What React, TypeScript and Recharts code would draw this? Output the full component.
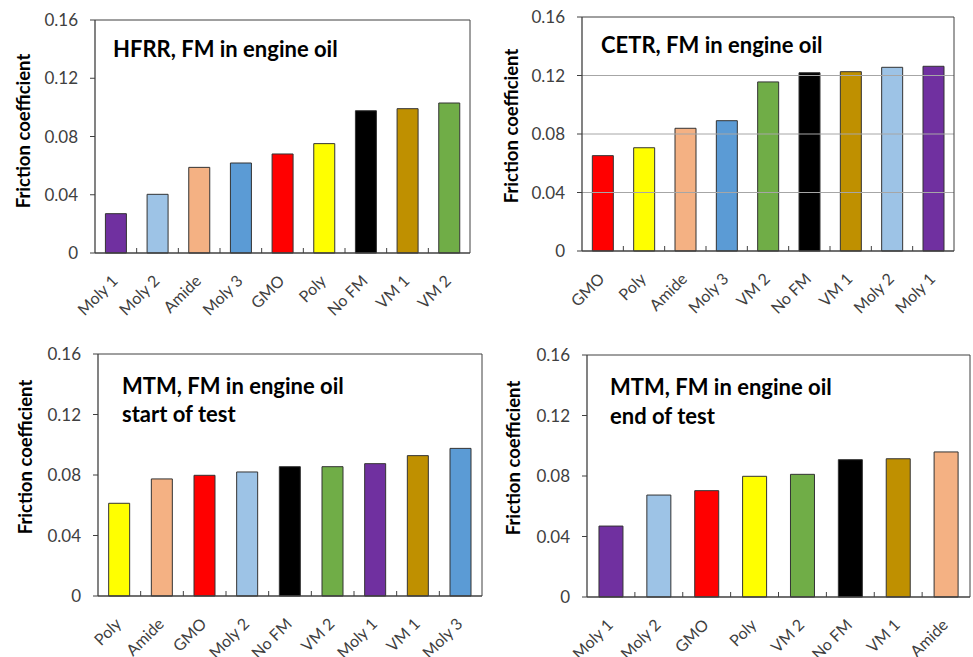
import React from "react";
import { BarChart, Bar, XAxis, YAxis, ReferenceLine, Cell } from "recharts";

const FONT = "Lato, 'Open Sans', sans-serif";
const INK = "#404040";

// one colour per friction modifier, same in every panel
const FM_COLORS: Record<string, string> = {
  "Moly 1": "#7030A0",
  "Moly 2": "#9DC3E6",
  Amide: "#F4B183",
  "Moly 3": "#5B9BD5",
  GMO: "#FF0000",
  Poly: "#FFFF00",
  "No FM": "#000000",
  "VM 1": "#BF9000",
  "VM 2": "#70AD47",
};

const yTicks = [0, 0.04, 0.08, 0.12, 0.16];
const gridValues = [0.04, 0.08, 0.12];

const hfrrNames = ["Moly 1", "Moly 2", "Amide", "Moly 3", "GMO", "Poly", "No FM", "VM 1", "VM 2"];
const hfrrValues = [0.027, 0.0403, 0.0588, 0.0618, 0.068, 0.0751, 0.0977, 0.0991, 0.103];

const cetrNames = ["GMO", "Poly", "Amide", "Moly 3", "VM 2", "No FM", "VM 1", "Moly 2", "Moly 1"];
const cetrValues = [0.0652, 0.0706, 0.0839, 0.0891, 0.1156, 0.1219, 0.1226, 0.1256, 0.1263];

const mtmStartNames = ["Poly", "Amide", "GMO", "Moly 2", "No FM", "VM 2", "Moly 1", "VM 1", "Moly 3"];
const mtmStartValues = [0.0613, 0.0774, 0.0798, 0.082, 0.0855, 0.0855, 0.0875, 0.0928, 0.0976];

const mtmEndNames = ["Moly 1", "Moly 2", "GMO", "Poly", "VM 2", "No FM", "VM 1", "Amide"];
const mtmEndValues = [0.0469, 0.0674, 0.0703, 0.0798, 0.0811, 0.0908, 0.0914, 0.0959];

const fmtTick = (v: number) => (v === 0 ? "0" : v.toFixed(2));

// rotated category label plus a short inner tick on the boundary to the next category
function CategoryTick(props: any) {
  const { x, y, payload, index, count, band } = props;
  const lx = x + 3;
  const ly = y + 29;
  return (
    <g>
      {index < count - 1 && (
        <line x1={x + band / 2} x2={x + band / 2} y1={y} y2={y - 5} stroke={INK} strokeWidth={1} />
      )}
      <text
        x={lx}
        y={ly}
        transform={`rotate(-45 ${lx} ${ly})`}
        textAnchor="end"
        fill={INK}
        fontSize={16}
        fontFamily={FONT}
      >
        {payload.value}
      </text>
    </g>
  );
}

type PanelProps = {
  names: string[];
  values: number[];
  left: number;
  top: number;
  width: number;
  height: number;
  margin: { top: number; right: number; bottom: number; left: number };
  xAxisHeight: number;
  grid?: boolean;
};

function Panel({ names, values, left, top, width, height, margin, xAxisHeight, grid }: PanelProps) {
  const data = names.map((name, i) => ({ name, value: values[i] }));
  const yAxisWidth = 60;
  const plotWidth = width - margin.left - margin.right - yAxisWidth;
  const band = plotWidth / names.length;
  return (
    <div style={{ position: "absolute", left, top }}>
      <BarChart width={width} height={height} data={data} margin={margin} barCategoryGap="25%">
        <XAxis
          dataKey="name"
          height={xAxisHeight}
          interval={0}
          tickLine={false}
          tickSize={0}
          tickMargin={0}
          axisLine={{ stroke: INK, strokeWidth: 1.3 }}
          tick={<CategoryTick count={names.length} band={band} />}
        />
        <XAxis xAxisId="frame" dataKey="name" orientation="top" height={1} tick={false} tickLine={false} axisLine={{ stroke: INK }} />
        <YAxis
          domain={[0, 0.16]}
          ticks={yTicks}
          tickFormatter={fmtTick}
          width={yAxisWidth}
          tickSize={5}
          tickMargin={12}
          axisLine={{ stroke: INK, strokeWidth: 1.3 }}
          tickLine={{ stroke: INK }}
          tick={{ fill: INK, fontSize: 17, fontFamily: FONT }}
        />
        <YAxis yAxisId="frame" orientation="right" mirror width={1} domain={[0, 0.16]} tick={false} tickLine={false} axisLine={{ stroke: INK }} />
        {grid &&
          gridValues.map((v) => (
            <ReferenceLine key={v} y={v} stroke="#A6A6A6" strokeWidth={1} />
          ))}
        <Bar dataKey="value" stroke="#333333" strokeWidth={1} isAnimationActive={false}>
          {data.map((d) => (
            <Cell key={d.name} fill={FM_COLORS[d.name]} />
          ))}
        </Bar>
        {/* frame axes need a series bound to them to be laid out */}
        <Bar dataKey="value" xAxisId="frame" yAxisId="frame" fill="none" stroke="none" legendType="none" isAnimationActive={false} />
      </BarChart>
    </div>
  );
}

const titleStyle = { fontFamily: FONT, fontWeight: 700, fill: "#000000" };

export default function App() {
  return (
    <div style={{ position: "absolute", left: 0, top: 0, width: 973, height: 657, background: "#ffffff", overflow: "hidden" }}>
      <Panel names={hfrrNames} values={hfrrValues} left={0} top={0} width={480} height={330}
        margin={{ top: 19, right: 10, bottom: 7, left: 35 }} xAxisHeight={70} />
      <Panel names={cetrNames} values={cetrValues} left={480} top={0} width={493} height={330}
        margin={{ top: 16, right: 19, bottom: 9, left: 42 }} xAxisHeight={70} grid />
      <Panel names={mtmStartNames} values={mtmStartValues} left={0} top={330} width={486} height={327}
        margin={{ top: 23, right: 4, bottom: 6, left: 38 }} xAxisHeight={55} />
      <Panel names={mtmEndNames} values={mtmEndValues} left={480} top={330} width={493} height={327}
        margin={{ top: 24, right: 3, bottom: 5, left: 47 }} xAxisHeight={55} />

      {/* panel titles and y-axis titles */}
      <svg width={973} height={657} style={{ position: "absolute", left: 0, top: 0, pointerEvents: "none" }}>
        <g style={titleStyle} fontSize={22}>
          <text x={113} y={57}>HFRR, FM in engine oil</text>
          <text x={601} y={53}>CETR, FM in engine oil</text>
          <text x={122} y={394}>MTM, FM in engine oil</text>
          <text x={122} y={422}>start of test</text>
          <text x={610} y={395}>MTM, FM in engine oil</text>
          <text x={610} y={424}>end of test</text>
        </g>
        <g style={titleStyle} fontSize={18.5} textAnchor="middle">
          <text transform="translate(30 131) rotate(-90)">Friction coefficient</text>
          <text transform="translate(518 126) rotate(-90)">Friction coefficient</text>
          <text transform="translate(32 457) rotate(-90)">Friction coefficient</text>
          <text transform="translate(520 458) rotate(-90)">Friction coefficient</text>
        </g>
      </svg>
    </div>
  );
}
